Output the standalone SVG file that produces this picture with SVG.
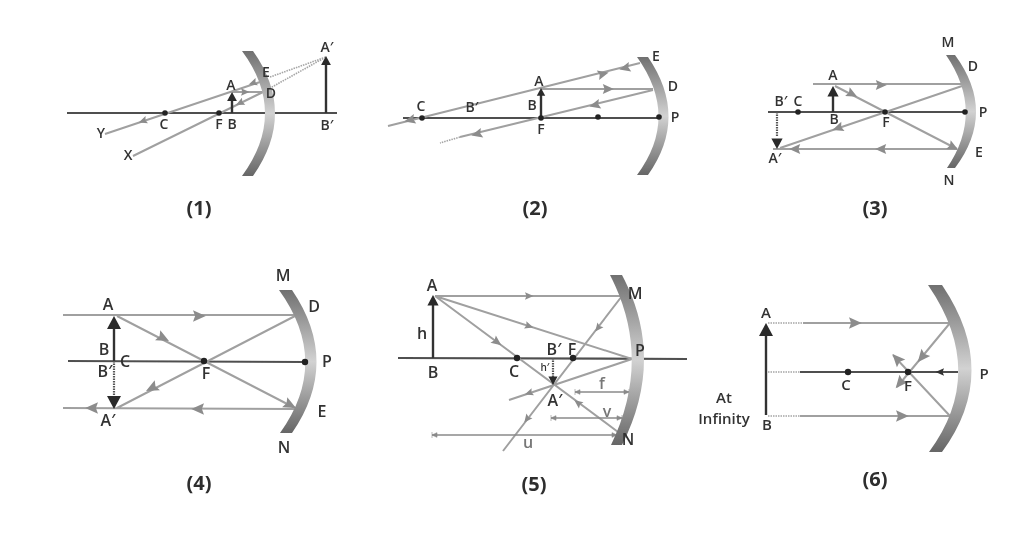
<svg xmlns="http://www.w3.org/2000/svg" width="1024" height="548" viewBox="0 0 1024 548">
<style>
.ax{stroke:#505050;stroke-width:2.2;fill:none}
.r{stroke:#a0a0a0;stroke-width:2;fill:none}
.d{stroke:#a5a5a5;stroke-width:1.6;stroke-dasharray:1.5 1;fill:none}
.o{stroke:#333;stroke-width:2.4;fill:none}
.od{stroke:#555;stroke-width:2.2;stroke-dasharray:1.5 1;fill:none}
.dim{stroke:#8a8a8a;stroke-width:1.3;fill:none;marker-start:url(#tick);marker-end:url(#tick)}
.m{fill:url(#mg)}
.p{fill:#222}
text{font-family:"Open Sans","Liberation Sans",sans-serif;font-weight:600;fill:#333;text-anchor:middle}
.s{font-size:14px}
.b{font-size:16px}
.g{font-size:16px;fill:#777}
.c{font-size:20px;font-weight:700;fill:#2e2e2e}
</style>
<defs>
<linearGradient id="mg" x1="0" y1="0" x2="0" y2="1">
<stop offset="0" stop-color="#707070"/><stop offset=".5" stop-color="#d2d2d2"/><stop offset="1" stop-color="#666"/>
</linearGradient>
<filter id="soft" filterUnits="userSpaceOnUse" x="0" y="0" width="1024" height="548"><feGaussianBlur stdDeviation=".45"/></filter>
<path id="h" d="M4.5 0L-4 -3.8L-2.6 0L-4 3.8Z" fill="#8c8c8c"/>
<path id="hd" d="M4.5 0L-4 -3.8L-2.6 0L-4 3.8Z" fill="#333"/>
<path id="bh" d="M0 0L-7 -13H7Z" fill="#2a2a2a"/>
<marker id="tick" viewBox="-6 -4 8 8" markerWidth="8" markerHeight="8" markerUnits="userSpaceOnUse" refX="0" refY="0" orient="auto-start-reverse">
<path d="M0 -3V3M0 0L-5 -2.3V2.3Z" fill="#8a8a8a" stroke="#8a8a8a" stroke-width=".6"/>
</marker>
</defs>
<rect width="1024" height="548" fill="#fff"/>
<g id="figure" filter="url(#soft)">
<g id="connectors">
<g id="rays-1">
<path class="ax" d="M67 113H337"/>
<path class="r" d="M105 134L260 82M133 156L263 92M232 92H263"/>
<path class="d" d="M270 77L326 57M263 92L326 57"/>
<path class="o" d="M232 113V98M326 113V64"/>
<use href="#bh" transform="translate(232 92) rotate(180) scale(.7)"/>
<use href="#bh" transform="translate(326 56) rotate(180) scale(.7)"/>
<use href="#h" transform="translate(143 121) rotate(161.4)"/>
<use href="#h" transform="translate(240 103) rotate(153.8)"/>
<use href="#h" transform="translate(253 83) rotate(161.4)"/>
<use href="#h" transform="translate(245 92)"/>
</g>
<g id="rays-2">
<path class="ax" d="M403 118H658"/>
<path class="r" d="M388 126L640 63M541 89H653M653 90L460 137"/>
<path class="d" d="M460 137L440 143"/>
<path class="o" d="M541 118V95"/>
<use href="#bh" transform="translate(541 88) rotate(180) scale(.6)"/>
<use href="#h" transform="translate(410 120) rotate(166) scale(1.3)"/>
<use href="#h" transform="translate(603 74) rotate(-14) scale(1.3)"/>
<use href="#h" transform="translate(625 68) rotate(166) scale(1.3)"/>
<use href="#h" transform="translate(608 89) scale(1.3)"/>
<use href="#h" transform="translate(595 105) rotate(166) scale(1.3)"/>
<use href="#h" transform="translate(477 134) rotate(166) scale(1.3)"/>
</g>
<g id="rays-3">
<path class="ax" d="M768 112H965"/>
<path class="r" d="M813 84H962M835 86L957 149M962 86L780 148M957 149H773"/>
<path class="o" d="M833 112V92"/>
<path class="od" d="M777 112V137"/>
<use href="#bh" transform="translate(833 86) rotate(180) scale(.8)"/>
<use href="#bh" transform="translate(777 149) scale(.8)"/>
<use href="#h" transform="translate(881 85) scale(1.3)"/>
<use href="#h" transform="translate(852 94) rotate(27.5) scale(1.3)"/>
<use href="#h" transform="translate(838 128) rotate(161) scale(1.3)"/>
<use href="#h" transform="translate(953 147) rotate(27.5) scale(1.3)"/>
<use href="#h" transform="translate(881 149) rotate(180) scale(1.3)"/>
<use href="#h" transform="translate(795 149) rotate(180) scale(1.3)"/>
</g>
<g id="rays-4">
<path class="ax" d="M68 361L305 362"/>
<path class="r" d="M63 315H295M117 316L295 408M295 316L117 408M295 409L63 408"/>
<path class="o" d="M114 361V322"/>
<path class="od" d="M114 361V396"/>
<use href="#bh" transform="translate(114 316) rotate(180)"/>
<use href="#bh" transform="translate(114 409)"/>
<use href="#h" transform="translate(199 316) scale(1.5)"/>
<use href="#h" transform="translate(163 338) rotate(27.4) scale(1.5)"/>
<use href="#h" transform="translate(152 388) rotate(152.6) scale(1.5)"/>
<use href="#h" transform="translate(198 409) rotate(180) scale(1.5)"/>
<use href="#h" transform="translate(92 408) rotate(180) scale(1.5)"/>
<use href="#h" transform="translate(290 405) rotate(27.4) scale(1.5)"/>
</g>
<g id="rays-5">
<path class="ax" d="M398 358L687 359"/>
<path class="r" d="M435 296H622M435 296L632 359M435 296L622 435M622 296L503 451M632 359L509 400"/>
<path class="o" d="M433 358V302"/>
<path class="od" d="M553 358V378"/>
<use href="#bh" transform="translate(433 295) rotate(180) scale(.8)"/>
<use href="#bh" transform="translate(553 385) scale(.65)"/>
<use href="#h" transform="translate(529 296)"/>
<use href="#h" transform="translate(529 326) rotate(17.8)"/>
<use href="#h" transform="translate(497 342) rotate(36.7) scale(1.2)"/>
<use href="#h" transform="translate(598 328) rotate(127.4)"/>
<use href="#h" transform="translate(527 419) rotate(127.4)"/>
<use href="#h" transform="translate(529 393) rotate(161.5)"/>
<use href="#h" transform="translate(578 403) rotate(216.7)"/>
<path class="dim" d="M575 392H629"/>
<path class="dim" d="M551 418H622"/>
<path class="dim" d="M432 435H617"/>
</g>
<g id="rays-6">
<path class="ax" d="M800 372H958"/>
<path class="r" d="M803 323H950M800 416H950M950 323L897 387M950 416L893 355"/>
<path class="d" d="M768 323H803M768 372H800M768 416H800"/>
<path class="o" d="M766 415V332"/>
<use href="#bh" transform="translate(766 323) rotate(180)"/>
<use href="#h" transform="translate(855 323) scale(1.5)"/>
<use href="#h" transform="translate(902 416) scale(1.5)"/>
<use href="#hd" transform="translate(940 372) rotate(180)"/>
<use href="#h" transform="translate(922 357) rotate(129.8) scale(1.5)"/>
<use href="#h" transform="translate(897 359) rotate(227) scale(1.5)"/>
<use href="#h" transform="translate(900 383) rotate(129.8) scale(1.5)"/>
</g>
</g>

<g id="diagram-1">
<path id="mirror-1" class="m" d="M242 51H253Q297 113 253 176H242Q288 113 242 51Z"/>
<circle class="p" cx="165" cy="113" r="2.8"/><circle class="p" cx="219" cy="113" r="2.8"/>
<g class="s">
<text x="231" y="90">A</text><text x="266" y="77">E</text><text x="271" y="98">D</text><text x="327" y="52">A′</text>
<text x="164" y="129">C</text><text x="219" y="129">F</text><text x="232" y="129">B</text><text x="327" y="130">B′</text>
<text x="101" y="138">Y</text><text x="128" y="160">X</text>
</g>
<text class="c" x="199" y="215">(1)</text>
</g>

<g id="diagram-2">
<path id="mirror-2" class="m" d="M637 57H648Q689 117 648 175H637Q680 117 637 57Z"/>
<circle class="p" cx="422" cy="118" r="2.8"/><circle class="p" cx="541" cy="118" r="2.8"/><circle class="p" cx="598" cy="117" r="2.8"/><circle class="p" cx="659" cy="117" r="2.8"/>
<g class="s">
<text x="656" y="61">E</text><text x="673" y="91">D</text><text x="675" y="122">P</text><text x="539" y="86">A</text>
<text x="532" y="110">B</text><text x="541" y="134">F</text><text x="421" y="111">C</text><text x="472" y="112">B′</text>
</g>
<text class="c" x="535" y="215">(2)</text>
</g>

<g id="diagram-3">
<path id="mirror-3" class="m" d="M946 55H955Q997 112 955 168H947Q985 112 946 55Z"/>
<circle class="p" cx="798" cy="112" r="2.8"/><circle class="p" cx="885" cy="112" r="2.8"/><circle class="p" cx="965" cy="112" r="2.8"/>
<g class="s">
<text x="948" y="47">M</text><text x="973" y="71">D</text><text x="983" y="117">P</text><text x="979" y="157">E</text>
<text x="949" y="185">N</text><text x="833" y="80">A</text><text x="834" y="124">B</text><text x="886" y="127">F</text>
<text x="798" y="106">C</text><text x="781" y="106">B′</text><text x="775" y="163">A′</text>
</g>
<text class="c" x="875" y="215">(3)</text>
</g>

<g id="diagram-4">
<path id="mirror-4" class="m" d="M279 290H292Q341 362 292 433H280Q331 362 279 290Z"/>
<circle class="p" cx="204" cy="361" r="3.2"/><circle class="p" cx="305" cy="362" r="3.2"/>
<g class="b">
<text x="283" y="281">M</text><text x="314" y="312">D</text><text x="327" y="367">P</text><text x="322" y="417">E</text>
<text x="284" y="453">N</text><text x="108" y="310">A</text><text x="104" y="355">B</text><text x="125" y="367">C</text>
<text x="105" y="377">B′</text><text x="206" y="379">F</text><text x="108" y="426">A′</text>
</g>
<text class="c" x="199" y="490">(4)</text>
</g>

<g id="diagram-5">
<path id="mirror-5" class="m" d="M610 275H622Q666 358 622 445H611Q653 358 610 275Z"/>
<circle class="p" cx="517" cy="358" r="3.2"/><circle class="p" cx="573" cy="358" r="3.2"/>
<g class="b">
<text x="432" y="291">A</text><text x="422" y="339">h</text><text x="433" y="378">B</text><text x="514" y="377">C</text>
<text x="554" y="355">B′</text><text x="572" y="355">F</text><text x="640" y="356">P</text><text x="635" y="299">M</text>
<text x="628" y="445">N</text><text x="555" y="406">A′</text>
</g>
<text x="545" y="371" font-size="10">h′</text>
<text class="g" x="602" y="389">f</text><text class="g" x="607" y="417">v</text><text class="g" x="528" y="448">u</text>
<text class="c" x="534" y="491">(5)</text>
</g>

<g id="diagram-6">
<path id="mirror-6" class="m" d="M928 285H942Q1001 372 942 452H929Q988 372 928 285Z"/>
<circle class="p" cx="848" cy="372" r="3.2"/><circle class="p" cx="908" cy="372" r="3.2"/>
<g class="s" style="font-size:15px">
<text x="766" y="318">A</text><text x="767" y="430">B</text><text x="984" y="379">P</text><text x="846" y="390">C</text><text x="908" y="391">F</text>
<text x="724" y="403">At</text><text x="724" y="424">Infinity</text>
</g>
<text class="c" x="875" y="486">(6)</text>
</g>
</g>
</svg>
